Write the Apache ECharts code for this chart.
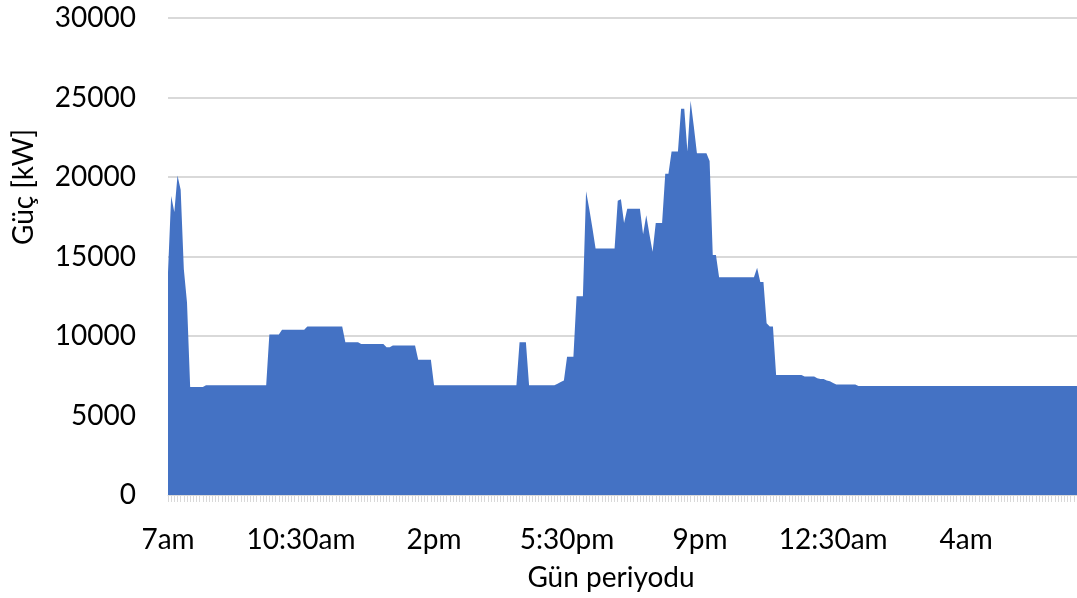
<!DOCTYPE html>
<html>
<head>
<meta charset="utf-8">
<script src="https://cdn.jsdelivr.net/npm/echarts@6/dist/echarts.min.js"></script>
<style>
html,body{margin:0;padding:0;background:#fff;}
#c{width:1077px;height:598px;}
</style>
</head>
<body>
<div id="c"></div>
<script>
// 5-minute samples from 7:00am to 6:55am next day (288 points)
const startHour = 7;
const stepMinutes = 5;
const yTicks = [0, 5000, 10000, 15000, 20000, 25000, 30000];
const xTitle = 'Gün periyodu';
const yTitle = 'Güç [kW]';
const power = [
14000,18800,17800,20100,19200,14200,12100,6800,6800,6800,
6800,6800,6900,6900,6900,6900,6900,6900,6900,6900,
6900,6900,6900,6900,6900,6900,6900,6900,6900,6900,
6900,6900,10100,10100,10100,10100,10400,10400,10400,10400,
10400,10400,10400,10400,10600,10600,10600,10600,10600,10600,
10600,10600,10600,10600,10600,10600,9600,9600,9600,9600,
9600,9500,9500,9500,9500,9500,9500,9500,9500,9300,
9300,9400,9400,9400,9400,9400,9400,9400,9400,8500,
8500,8500,8500,8500,6900,6900,6900,6900,6900,6900,
6900,6900,6900,6900,6900,6900,6900,6900,6900,6900,
6900,6900,6900,6900,6900,6900,6900,6900,6900,6900,
6900,9600,9600,9600,6900,6900,6900,6900,6900,6900,
6900,6900,6900,7000,7100,7200,8700,8700,8700,12500,
12500,12500,19100,18000,16800,15500,15500,15500,15500,15500,
15500,15500,18500,18600,17100,18000,18000,18000,18000,18000,
16400,17600,16400,15300,17100,17100,17100,20200,20200,21600,
21600,21600,24300,24300,21600,24800,23200,21500,21500,21500,
21500,21000,15100,15100,13700,13700,13700,13700,13700,13700,
13700,13700,13700,13700,13700,13700,14300,13400,13400,10800,
10600,10600,7550,7550,7550,7550,7550,7550,7550,7550,
7550,7450,7450,7450,7450,7350,7300,7300,7200,7150,
7050,6950,6950,6950,6950,6950,6950,6950,6850,6850,
6850,6850,6850,6850,6850,6850,6850,6850,6850,6850,
6850,6850,6850,6850,6850,6850,6850,6850,6850,6850,
6850,6850,6850,6850,6850,6850,6850,6850,6850,6850,
6850,6850,6850,6850,6850,6850,6850,6850,6850,6850,
6850,6850,6850,6850,6850,6850,6850,6850,6850,6850,
6850,6850,6850,6850,6850,6850,6850,6850,6850,6850,
6850,6850,6850,6850,6850,6850,6850,6850
];

function fmtTime(totalMin){
  const m = totalMin % (24*60);
  const h24 = Math.floor(m/60), mm = m % 60;
  const ap = h24 < 12 ? 'am' : 'pm';
  let h = h24 % 12; if (h === 0) h = 12;
  return h + (mm ? ':' + String(mm).padStart(2,'0') : '') + ap;
}
const categories = power.map((_, i) => fmtTime(startHour*60 + i*stepMinutes));

const FONT = 'Lato';
const FS = 28;
const chart = echarts.init(document.getElementById('c'), null, {renderer:'canvas'});
chart.setOption({
  animation:false,
  backgroundColor:'#ffffff',
  grid:{left:168, right:0, top:18, bottom:103, containLabel:false},
  xAxis:{
    type:'category',
    data:categories,
    boundaryGap:false,
    axisLine:{show:true, lineStyle:{color:'#d9d9d9', width:1}},
    axisTick:{show:true, interval:0, length:7, lineStyle:{color:'#d9d9d9', width:1}},
    axisLabel:{interval:41, margin:31, color:'#000', fontFamily:FONT, fontSize:FS},
    splitLine:{show:false}
  },
  yAxis:{
    type:'value',
    min:yTicks[0], max:yTicks[yTicks.length-1], interval:5000,
    axisLine:{show:false}, axisTick:{show:false},
    axisLabel:{margin:32, color:'#000', fontFamily:FONT, fontSize:FS, formatter:v => String(v)},
    splitLine:{lineStyle:{color:'#d9d9d9', width:2}}
  },
  series:[{
    type:'line',
    data:power,
    symbol:'none',
    lineStyle:{width:0},
    areaStyle:{color:'#4472c4', opacity:1},
    itemStyle:{color:'#4472c4'},
    z:3
  }],
  graphic:[
    {type:'text', x:611, y:578, style:{text:xTitle, font:FS+'px '+FONT, fill:'#000', textAlign:'center', textVerticalAlign:'middle'}},
    {type:'text', x:24, y:187, rotation:Math.PI/2, style:{text:yTitle, font:FS+'px '+FONT, fill:'#000', textAlign:'center', textVerticalAlign:'middle'}}
  ]
});
</script>
</body>
</html>
